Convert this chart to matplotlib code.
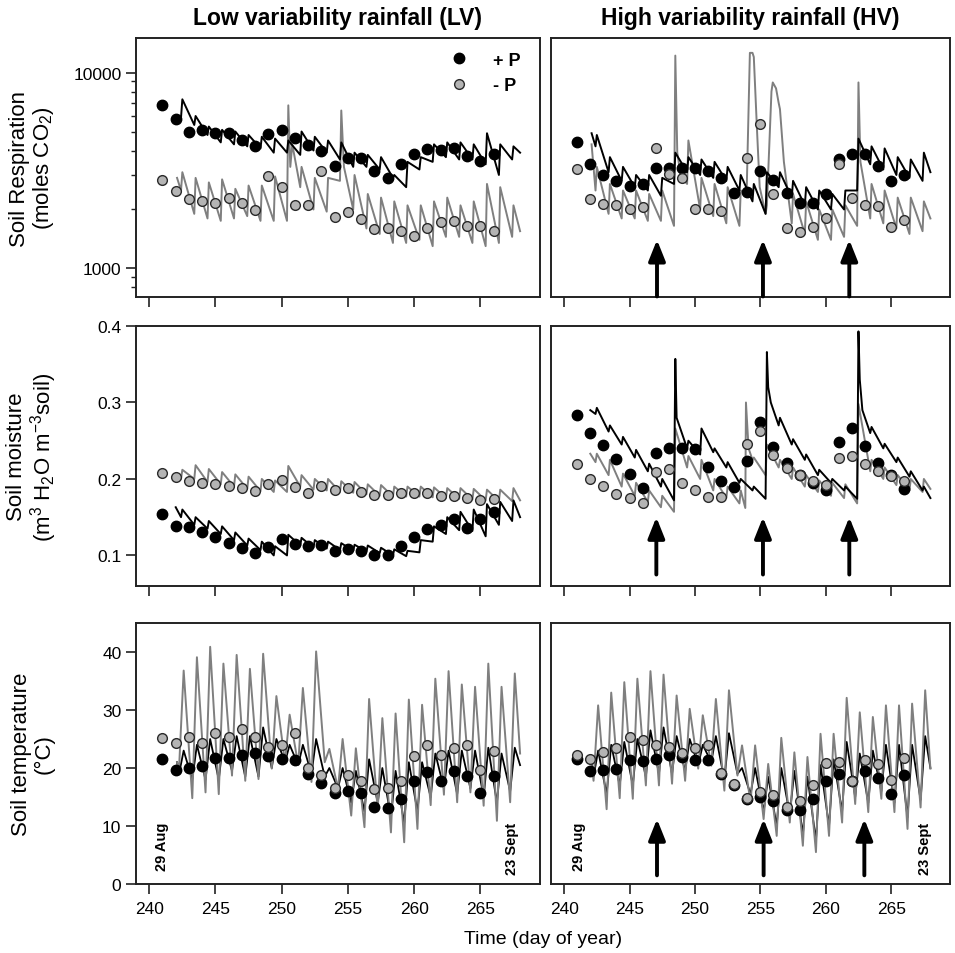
import numpy as np
import matplotlib
matplotlib.use("Agg")
import matplotlib.pyplot as plt
from matplotlib import font_manager, ticker
from matplotlib.lines import Line2D

# ── fonts ─────────────────────────────────────────────────────
_installed = {f.name for f in font_manager.fontManager.ttflist}
NARROW = "Liberation Sans Narrow" if "Liberation Sans Narrow" in _installed else "Liberation Sans"
plt.rcParams["font.family"] = ["Liberation Sans", "DejaVu Sans"]
plt.rcParams["mathtext.fontset"] = "custom"
plt.rcParams["mathtext.rm"] = NARROW
plt.rcParams["mathtext.it"] = NARROW + ":italic"
plt.rcParams["mathtext.bf"] = NARROW + ":bold"

# ── colours ───────────────────────────────────────────────────
C_POS = "black"
C_NEG_LINE = "#7f7f7f"
C_NEG_DOT = "#b4b4b4"
C_EDGE = "#2a2a2a"

# ── data: daily measurements (day 241..266) ──────────────────
dot_days = np.arange(241, 267)

lv_resp_pos = [6800, 5820, 4980, 5090, 4900, 4900, 4530, 4230, 4870, 5090, 4660, 4250, 3980,
               3340, 3680, 3680, 3150, 2910, 3400, 3830, 4090, 4030, 4140, 3730, 3540, 3830]
lv_resp_neg = [2830, 2480, 2260, 2210, 2150, 2280, 2150, 1990, 2970, 2600, 2110, 2110, 3130,
               1840, 1940, 1790, 1590, 1600, 1560, 1460, 1600, 1720, 1750, 1640, 1640, 1560]
hv_resp_pos = [4400, 3400, 3010, 2800, 2640, 2690, 3240, 3270, 3270, 3270, 3150, 2880, 2420,
               2470, 3150, 2830, 2420, 2170, 2160, 2390, 3610, 3830, 3830, 3340, 2800, 3010]
hv_resp_neg = [3210, 2260, 2130, 2110, 2010, 2070, 4140, 3030, 2910, 2000, 2010, 1970, np.nan,
               3680, 5450, 2390, 1600, 1540, 1630, 1800, 3400, 2300, 2110, 2090, 1630, 1770]

lv_moist_pos = [0.154, 0.139, 0.137, 0.131, 0.124, 0.116, 0.110, 0.1035, 0.111, 0.122, 0.115, 0.112, 0.114,
                0.106, 0.109, 0.106, 0.101, 0.101, 0.112, 0.124, 0.135, 0.140, 0.148, 0.136, 0.148, 0.157]
lv_moist_neg = [0.208, 0.202, 0.197, 0.195, 0.194, 0.191, 0.188, 0.184, 0.194, 0.199, 0.189, 0.182, 0.191,
                0.185, 0.188, 0.183, 0.179, 0.179, 0.181, 0.182, 0.181, 0.178, 0.178, 0.175, 0.173, 0.174]
hv_moist_pos = [0.284, 0.260, 0.244, 0.226, 0.207, 0.188, 0.234, 0.240, 0.240, 0.239, 0.216, 0.197, 0.189,
                0.224, 0.274, 0.242, 0.221, 0.205, 0.195, 0.185, 0.248, 0.266, 0.243, 0.221, 0.205, 0.187]
hv_moist_neg = [0.220, 0.200, 0.191, 0.180, 0.175, 0.168, 0.209, 0.213, 0.195, 0.186, 0.176, 0.177, np.nan,
                0.246, 0.263, 0.231, 0.214, 0.205, 0.197, 0.192, 0.227, 0.230, 0.220, 0.211, 0.204, 0.197]

lv_temp_pos = [21.6, 19.7, 20.0, 20.3, 21.7, 21.7, 22.2, 22.6, 22.0, 21.5, 21.3, 19.0, 17.4,
               15.7, 16.0, 15.7, 13.2, 13.1, 14.7, 17.7, 19.3, 17.7, 19.4, 18.7, 15.7, 18.6]
lv_temp_neg = [25.2, 24.3, 25.3, 24.3, 26.0, 25.4, 26.8, 25.4, 23.6, 24.0, 26.0, 20.0, 18.8,
               16.5, 18.8, 17.7, 16.3, 16.5, 17.8, 22.0, 24.0, 22.3, 23.4, 24.0, 19.7, 23.0]
hv_temp_pos = [21.5, 19.4, 19.6, 19.9, 21.3, 21.2, 21.5, 22.3, 21.9, 21.3, 21.4, 19.0, 17.0,
               14.7, 15.0, 14.4, 12.8, 12.7, 14.7, 17.7, 18.9, 17.7, 19.4, 18.2, 15.5, 18.8]
hv_temp_neg = [22.3, 21.5, 22.7, 23.4, 25.3, 24.9, 23.9, 23.6, 22.6, 23.4, 23.9, 19.1, 17.3,
               14.8, 15.9, 15.3, 13.2, 14.4, 17.0, 20.9, 21.1, 17.8, 21.3, 20.7, 18.0, 21.7]

# ── data: continuous records, daily trough / peak (day 242..267) ─
FIRST_CYCLE_DAY = 242
PHASE_PULSE = (0.4, 0.5)     # trough, peak within the day (respiration, moisture)
PHASE_TEMP = (0.25, 0.6)     # trough, peak within the day (temperature)

lv_resp_pos_tr = [5900, 5400, 4800, 4400, 4300, 4200, 4100, 3900, 3900, 3800, 4000, 3900, 3600,
                  3300, 3300, 3200, 2900, 2600, 3200, 3500, 3700, 3600, 3600, 3400, 3000, 3600]
lv_resp_pos_pk = [7300, 6000, 5300, 5100, 5000, 4800, 4700, 4600, 4500, 5000, 4700, 4500, 4400,
                  3900, 3800, 3700, 3000, 3500, 3700, 4300, 4400, 4400, 4300, 4900, 4300, 4200]
lv_resp_pos_ends = [(242.1, 6000), (268.0, 3900)]

lv_resp_neg_tr = [2500, 1900, 1800, 1750, 1800, 1850, 1750, 1750, 1750, 2600, 2000, 1950, 2800,
                  2000, 1600, 1500, 1350, 1350, 1400, 1300, 1450, 1450, 1350, 1300, 1350, 1450]
lv_resp_neg_pk = [3100, 2900, 2750, 2850, 2550, 2650, 2650, 2950, 6800, 3300, 2900, 2900, 6400,
                  3000, 2400, 2300, 2200, 2100, 2100, 2200, 2300, 2100, 2200, 2700, 2600, 2100]
lv_resp_neg_ends = [(242.1, 2900), (268.0, 1550)]
lv_resp_neg_extra_t = [250.65, 250.8, 254.7]
lv_resp_neg_extra_v = [3300, 4300, 3300]

hv_resp_pos_tr = [4200, 3100, 2800, 2600, 2500, 2350, 2700, 3100, 3000, 2900, 2800, 2500, 2200,
                  1900, 2600, 2300, 2100, 2000, 2000, 2000, 2500, 3400, 3200, 3000, 2900, 2800]
hv_resp_pos_pk = [4800, 3700, 3300, 3000, 3000, 2900, 3900, 3700, 3600, 3500, 3300, 3000, 2700,
                  3100, 3100, 2800, 2600, 2500, 2400, 2500, 4600, 4200, 4100, 3700, 3600, 3900]
hv_resp_pos_ends = [(242.1, 4900), (268.0, 3100)]

hv_resp_neg_tr = [2500, 1900, 1800, 1800, 1750, 1750, 1650, 2700, 2000, 1850, 1700, 1650, 12600,
                  1900, 7000, 1700, 1500, 1400, 1400, 1450, 1650, 1800, 1700, 1600, 1500, 1550]
hv_resp_neg_pk = [3300, 2700, 2500, 2500, 2400, 2500, 12200, 4500, 2900, 2700, 2600, 2500, 12000,
                  2100, 6500, 2400, 2200, 2000, 2000, 2100, 8900, 2700, 2500, 2300, 2300, 2200]
hv_resp_neg_ends = [(242.1, 4300), (268.0, 1800)]
hv_resp_neg_extra_t = [248.65, 248.9, 253.95, 254.2, 254.75, 254.95, 255.85, 255.95, 256.2, 256.8, 262.65]
hv_resp_neg_extra_v = [3900, 3000, 2400, 12600, 5000, 2600, 8000, 8900, 8300, 3500, 3500]

lv_moist_pos_tr = [0.150, 0.140, 0.135, 0.128, 0.120, 0.113, 0.107, 0.100, 0.100, 0.113, 0.110, 0.109, 0.107,
                   0.106, 0.105, 0.103, 0.100, 0.099, 0.104, 0.118, 0.128, 0.133, 0.132, 0.125, 0.140, 0.145]
lv_moist_pos_pk = [0.160, 0.150, 0.145, 0.138, 0.130, 0.122, 0.118, 0.112, 0.127, 0.123, 0.120, 0.118, 0.116,
                   0.114, 0.113, 0.110, 0.108, 0.106, 0.120, 0.138, 0.150, 0.157, 0.160, 0.167, 0.170, 0.172]
lv_moist_pos_ends = [(242.0, 0.163), (268.0, 0.150)]

lv_moist_neg_tr = [0.200, 0.200, 0.196, 0.193, 0.190, 0.187, 0.184, 0.183, 0.183, 0.190, 0.186, 0.185, 0.183,
                   0.182, 0.180, 0.178, 0.177, 0.177, 0.177, 0.176, 0.175, 0.174, 0.173, 0.172, 0.171, 0.171]
lv_moist_neg_pk = [0.212, 0.218, 0.213, 0.209, 0.206, 0.203, 0.200, 0.198, 0.217, 0.205, 0.200, 0.200, 0.197,
                   0.196, 0.193, 0.192, 0.190, 0.190, 0.190, 0.189, 0.188, 0.188, 0.187, 0.186, 0.186, 0.188]
lv_moist_neg_ends = [(242.1, 0.205), (268.0, 0.172)]

hv_moist_pos_tr = [0.285, 0.262, 0.245, 0.228, 0.210, 0.190, 0.172, 0.240, 0.232, 0.235, 0.215, 0.195, 0.185,
                   0.174, 0.270, 0.245, 0.225, 0.205, 0.195, 0.185, 0.174, 0.260, 0.240, 0.222, 0.203, 0.185]
hv_moist_pos_pk = [0.293, 0.270, 0.255, 0.238, 0.220, 0.200, 0.357, 0.250, 0.266, 0.240, 0.222, 0.200, 0.190,
                   0.366, 0.280, 0.252, 0.232, 0.212, 0.200, 0.190, 0.393, 0.268, 0.246, 0.228, 0.210, 0.190]
hv_moist_pos_ends = [(242.0, 0.290), (268.0, 0.175)]
hv_moist_pos_extra_t = [248.6, 255.6, 255.8, 262.6, 262.8]
hv_moist_pos_extra_v = [0.28, 0.32, 0.30, 0.33, 0.29]

hv_moist_neg_tr = [0.222, 0.205, 0.190, 0.178, 0.170, 0.163, 0.157, 0.215, 0.200, 0.185, 0.175, 0.168, 0.225,
                   0.205, 0.215, 0.200, 0.190, 0.183, 0.178, 0.175, 0.168, 0.210, 0.200, 0.192, 0.185, 0.183]
hv_moist_neg_pk = [0.233, 0.225, 0.207, 0.195, 0.185, 0.178, 0.266, 0.230, 0.225, 0.200, 0.190, 0.185, 0.228,
                   0.245, 0.225, 0.215, 0.205, 0.198, 0.195, 0.193, 0.298, 0.225, 0.215, 0.205, 0.200, 0.200]
hv_moist_neg_ends = [(242.0, 0.233), (268.0, 0.187)]
hv_moist_neg_extra_t = [253.85, 253.9, 254.1]
hv_moist_neg_extra_v = [0.162, 0.300, 0.240]

lv_temp_pos_tr = [19, 18, 18, 18, 19.5, 18.5, 18.5, 20, 21, 20.5, 19, 18.5, 16.5,
                  14, 12.5, 14, 11.5, 10.5, 12.5, 15, 16.5, 15.5, 16.5, 15, 14, 16]
lv_temp_pos_pk = [23, 24, 25, 25, 25.5, 25.5, 27, 25, 24, 24, 25, 20, 20,
                  19.5, 21.5, 20, 19.5, 21, 21, 22.5, 23, 23, 23, 23.5, 22.5, 23.5]
lv_temp_pos_ends = [(242.1, 21.0), (268.0, 20.5)]

lv_temp_neg_tr = [19.9, 14.8, 15.8, 15.5, 18.7, 17.8, 18.1, 19.9, 21.0, 20.5, 17.6, 21.0, 16.4,
                  11.8, 9.8, 12.7, 8.9, 7.2, 9.5, 13.6, 15.4, 14.1, 15.8, 13.5, 10.9, 14.1]
lv_temp_neg_pk = [36.8, 39.1, 40.9, 38.0, 39.5, 37.1, 39.7, 32.4, 29.2, 33.8, 40.1, 23.3, 25.0,
                  23.4, 31.9, 28.6, 29.4, 31.8, 30.9, 35.4, 36.7, 34.4, 34.0, 38.0, 34.0, 36.3]
lv_temp_neg_ends = [(242.1, 21.0), (268.0, 22.5)]

hv_temp_pos_tr = [18.5, 15.5, 17, 17, 18.5, 19, 19, 19.5, 20.5, 21, 18, 19, 15.5,
                  12.5, 10, 12, 8.5, 7.5, 10, 12.5, 15, 14, 16, 14, 11.5, 14.5]
hv_temp_pos_pk = [23, 24, 24.5, 25, 26.5, 27, 25.5, 25, 24, 25.5, 26, 20, 20,
                  18.5, 20, 19.5, 18.5, 20.5, 21.5, 24.5, 22.5, 23, 24, 24, 24, 25.5]
hv_temp_pos_ends = [(242.1, 21.0), (268.0, 20.0)]

hv_temp_neg_tr = [17.8, 12.9, 14.8, 14.7, 17.0, 17.0, 17.3, 17.8, 19.9, 20.4, 16.1, 18.7, 14.1,
                  11.2, 8.3, 10.6, 6.6, 5.5, 8.3, 10.6, 13.8, 12.4, 14.7, 12.4, 9.5, 13.2]
hv_temp_neg_pk = [30.8, 33.0, 34.8, 35.4, 36.7, 36.1, 32.5, 30.2, 29.1, 31.9, 33.4, 23.9, 23.9,
                  20.7, 25.2, 22.7, 21.9, 25.9, 25.9, 32.1, 29.6, 28.8, 30.8, 30.8, 31.1, 33.4]
hv_temp_neg_ends = [(242.05, 21.5), (268.0, 19.9)]

# rain pulses (HV), marked by arrows per row
rain_days = [[247.1, 255.2, 261.8], [247.05, 255.2, 261.8], [247.1, 255.25, 262.95]]

col_titles = ["Low variability rainfall (LV)", "High variability rainfall (HV)"]
row_labels = ["Soil Respiration\n(moles CO$_2$)",
              "Soil moisture\n(m$^3$ H$_2$O m$^{-3}$soil)",
              "Soil temperature\n(°C)"]
date_labels = ["29 Aug", "23 Sept"]
legend_labels = ["+ P", "- P"]


def cycle_series(ends, troughs, peaks, phase, extra_t=(), extra_v=()):
    days = np.arange(FIRST_CYCLE_DAY, FIRST_CYCLE_DAY + len(troughs))
    t = np.column_stack([days + phase[0], days + phase[1]]).ravel()
    v = np.column_stack([troughs, peaks]).ravel()
    t = np.concatenate([[ends[0][0]], t, [ends[1][0]], np.asarray(extra_t, float)])
    v = np.concatenate([[ends[0][1]], v, [ends[1][1]], np.asarray(extra_v, float)])
    o = np.argsort(t, kind="stable")
    return t[o], v[o]


# (row, col) -> (pos line, neg line, pos dots, neg dots)
panels = {
    (0, 0): (cycle_series(lv_resp_pos_ends, lv_resp_pos_tr, lv_resp_pos_pk, PHASE_PULSE),
             cycle_series(lv_resp_neg_ends, lv_resp_neg_tr, lv_resp_neg_pk, PHASE_PULSE,
                          lv_resp_neg_extra_t, lv_resp_neg_extra_v),
             lv_resp_pos, lv_resp_neg),
    (0, 1): (cycle_series(hv_resp_pos_ends, hv_resp_pos_tr, hv_resp_pos_pk, PHASE_PULSE),
             cycle_series(hv_resp_neg_ends, hv_resp_neg_tr, hv_resp_neg_pk, PHASE_PULSE,
                          hv_resp_neg_extra_t, hv_resp_neg_extra_v),
             hv_resp_pos, hv_resp_neg),
    (1, 0): (cycle_series(lv_moist_pos_ends, lv_moist_pos_tr, lv_moist_pos_pk, PHASE_PULSE),
             cycle_series(lv_moist_neg_ends, lv_moist_neg_tr, lv_moist_neg_pk, PHASE_PULSE),
             lv_moist_pos, lv_moist_neg),
    (1, 1): (cycle_series(hv_moist_pos_ends, hv_moist_pos_tr, hv_moist_pos_pk, PHASE_PULSE,
                          hv_moist_pos_extra_t, hv_moist_pos_extra_v),
             cycle_series(hv_moist_neg_ends, hv_moist_neg_tr, hv_moist_neg_pk, PHASE_PULSE,
                          hv_moist_neg_extra_t, hv_moist_neg_extra_v),
             hv_moist_pos, hv_moist_neg),
    (2, 0): (cycle_series(lv_temp_pos_ends, lv_temp_pos_tr, lv_temp_pos_pk, PHASE_TEMP),
             cycle_series(lv_temp_neg_ends, lv_temp_neg_tr, lv_temp_neg_pk, PHASE_TEMP),
             lv_temp_pos, lv_temp_neg),
    (2, 1): (cycle_series(hv_temp_pos_ends, hv_temp_pos_tr, hv_temp_pos_pk, PHASE_TEMP),
             cycle_series(hv_temp_neg_ends, hv_temp_neg_tr, hv_temp_neg_pk, PHASE_TEMP),
             hv_temp_pos, hv_temp_neg),
}

# ── layout (figure fractions) ─────────────────────────────────
COL_X = [(0.1424, 0.4230), (0.5770, 0.4178)]
ROW_Y = [(0.6876, 0.2715), (0.3847, 0.2725), (0.0723, 0.2736)]
YLIMS = [(715, 15000), (0.06, 0.4), (0, 45)]
XLIM = (239.0, 269.5)
ARROW_Y = [(1400, 720), (0.150, 0.075), (11.2, 1.5)]

fig = plt.figure(figsize=(9.55, 9.54), dpi=100)

for r in range(3):
    for c in range(2):
        ax = fig.add_axes([COL_X[c][0], ROW_Y[r][0], COL_X[c][1], ROW_Y[r][1]])
        (tp, vp), (tn, vn), dp, dn = panels[(r, c)]

        if r == 2:
            ax.plot(tp, vp, color=C_POS, lw=1.3, zorder=2)
            ax.plot(tn, vn, color=C_NEG_LINE, lw=1.4, zorder=3)
        else:
            ax.plot(tn, vn, color=C_NEG_LINE, lw=1.4, zorder=2)
            ax.plot(tp, vp, color=C_POS, lw=1.4, zorder=3)

        ax.plot(dot_days, dp, "o", ms=7.5, color=C_POS, mec=C_POS, zorder=5)
        ax.plot(dot_days, dn, "o", ms=7.0, color=C_NEG_DOT, mec=C_EDGE, mew=1.0, zorder=6)

        if r == 0:
            ax.set_yscale("log")
        ax.set_ylim(*YLIMS[r])
        ax.set_xlim(*XLIM)
        ax.set_xticks(np.arange(240, 266, 5))

        for s in ax.spines.values():
            s.set_linewidth(1.4)
            s.set_color("#222222")
        ax.tick_params(which="major", direction="out", length=7, width=1.2,
                       labelsize=12.5, color="#222222")
        ax.tick_params(which="minor", direction="out", length=3.5, width=1.0, color="#222222")
        ax.tick_params(axis="x", which="both", labelbottom=(r == 2), pad=5)

        if c == 0:
            if r == 0:
                ax.yaxis.set_major_locator(ticker.FixedLocator([1000, 10000]))
                ax.yaxis.set_major_formatter(ticker.FuncFormatter(lambda v, _: f"{v:.0f}"))
                ax.yaxis.set_minor_locator(ticker.LogLocator(base=10, subs=np.arange(2, 10)))
                ax.yaxis.set_minor_formatter(ticker.NullFormatter())
            elif r == 1:
                ax.set_yticks([0.1, 0.2, 0.3, 0.4])
            else:
                ax.set_yticks([0, 10, 20, 30, 40])
        else:
            ax.tick_params(axis="y", which="both", left=False, labelleft=False)
            for xd in rain_days[r]:
                ax.annotate("", xy=(xd, ARROW_Y[r][0]), xytext=(xd, ARROW_Y[r][1]),
                            arrowprops=dict(arrowstyle="-|>,head_length=0.7,head_width=0.28",
                                            color="black", lw=2.8, mutation_scale=18,
                                            shrinkA=0, shrinkB=0), zorder=7)

        if r == 2:
            ax.text(241.0 if c == 0 else 241.1, 6.6, date_labels[0], rotation=90,
                    ha="center", va="center", fontsize=10.5, fontweight="bold")
            ax.text(267.4 if c == 0 else 267.6, 6.3, date_labels[1], rotation=90,
                    ha="center", va="center", fontsize=10.5, fontweight="bold")

        if r == 0 and c == 0:
            handles = [Line2D([], [], ls="none", marker="o", ms=7.5, color=C_POS),
                       Line2D([], [], ls="none", marker="o", ms=7.0, color=C_NEG_DOT,
                              mec=C_EDGE, mew=1.0)]
            ax.legend(handles, legend_labels, loc="upper right", bbox_to_anchor=(0.97, 0.975),
                      frameon=False, handlelength=1.0, handletextpad=1.4, labelspacing=0.45,
                      borderaxespad=0, prop=dict(weight="bold", size=13))

for c in range(2):
    fig.text(COL_X[c][0] + COL_X[c][1] / 2, 1 - 18 / 954, col_titles[c], ha="center", va="center",
             fontsize=16.5, fontweight="bold", family=NARROW)
for r in range(3):
    fig.text(0.0345, ROW_Y[r][0] + ROW_Y[r][1] / 2, row_labels[r], rotation=90, ha="center",
             va="center", fontsize=16, family=NARROW, linespacing=1.05, multialignment="center")
fig.text(0.5686, 1 - 940 / 954, "Time (day of year)", ha="center", va="center", fontsize=14)

fig.savefig("out.png", dpi=100)
